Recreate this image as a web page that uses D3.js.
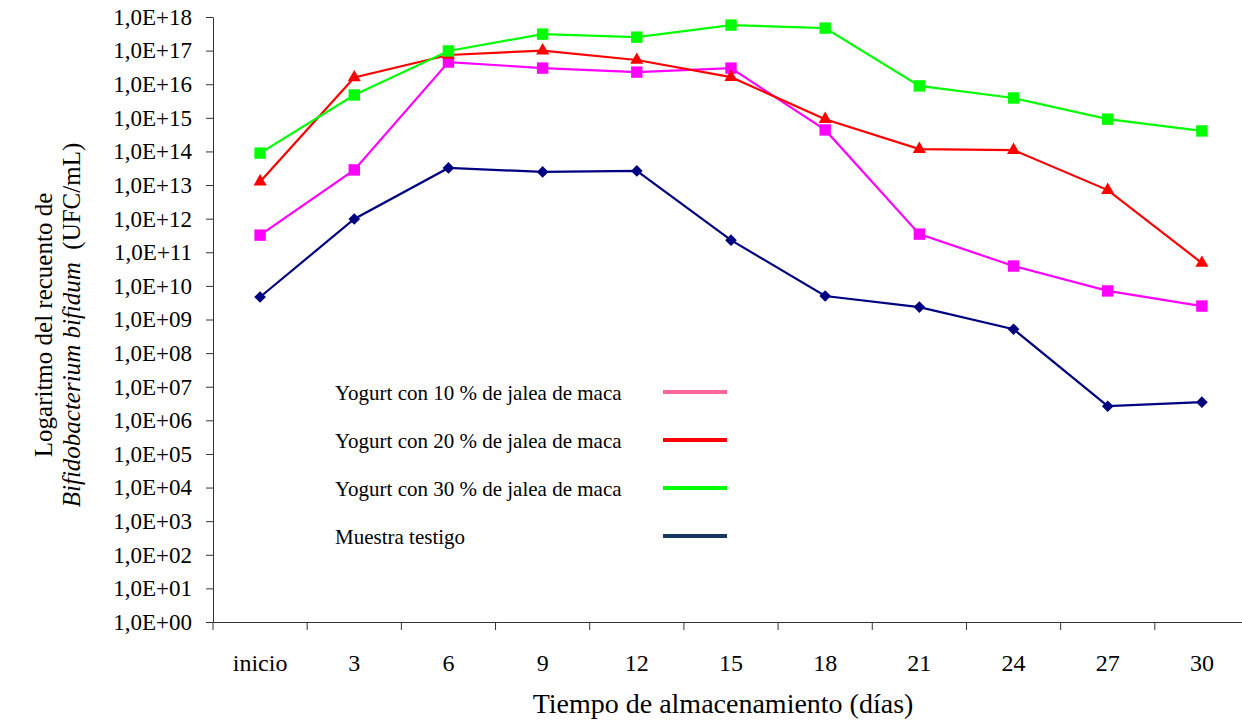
<!DOCTYPE html>
<meta charset="utf-8">
<style>
body { margin: 0; background: #fff; }
svg { font-family: "Liberation Serif", "Times New Roman", serif; }
.tick text { fill: #000; }
.axis path, .axis line { stroke: #333; }
</style>
<svg width="1242" height="721"></svg>
<script src="https://d3js.org/d3.v7.min.js"></script>
<script>

// dias de almacenamiento
var dias = ["inicio", "3", "6", "9", "12", "15", "18", "21", "24", "27", "30"];

// log10 del recuento (UFC/mL)
var yogurt10 = [11.51, 13.45, 16.66, 16.48, 16.36, 16.48, 14.64, 11.54, 10.59, 9.85, 9.40];
var yogurt20 = [13.10, 16.20, 16.87, 17.00, 16.72, 16.21, 14.96, 14.07, 14.04, 12.85, 10.68];
var yogurt30 = [13.95, 15.68, 16.99, 17.49, 17.40, 17.76, 17.67, 15.95, 15.59, 14.96, 14.61];
var testigo  = [9.67, 11.99, 13.51, 13.39, 13.42, 11.36, 9.70, 9.37, 8.71, 6.42, 6.54];

var yTicks = d3.range(0, 19);

var series = [
  {name: "Yogurt con 10 % de jalea de maca", values: yogurt10, color: "#ff00ff", legend: "#ff6699", marker: "square"},
  {name: "Yogurt con 20 % de jalea de maca", values: yogurt20, color: "#ff0000", legend: "#ff0000", marker: "triangle"},
  {name: "Yogurt con 30 % de jalea de maca", values: yogurt30, color: "#00ff00", legend: "#00ff00", marker: "square"},
  {name: "Muestra testigo", values: testigo, color: "#000080", legend: "#17375e", marker: "diamond"}
];

var svg = d3.select("svg");
var mLeft = 213, mRight = 1249, mTop = 17, mBottom = 622;
var serif = "'Liberation Serif', 'Times New Roman', serif";

var x = d3.scaleBand().domain(dias).range([mLeft, mRight]);
var y = d3.scaleLinear().domain([0, 18]).range([mBottom, mTop]);

// eje y
var gy = svg.append("g")
    .attr("class", "axis")
    .attr("transform", "translate(" + mLeft + ",0)")
    .call(d3.axisLeft(y).tickValues(yTicks).tickSize(7).tickSizeOuter(0).tickPadding(14)
      .tickFormat(function(d) { return "1,0E+" + (d < 10 ? "0" : "") + d; }));
gy.attr("font-family", serif).attr("font-size", 23);

// eje x
var gx = svg.append("g")
    .attr("class", "axis")
    .attr("transform", "translate(0," + mBottom + ")")
    .call(d3.axisBottom(x).tickSize(0).tickPadding(32));
gx.attr("font-family", serif).attr("font-size", 24);
gx.selectAll(".tickmark")
    .data(dias).enter().append("line")
    .attr("x1", function(d) { return x(d); })
    .attr("x2", function(d) { return x(d); })
    .attr("y1", 0).attr("y2", 8)
    .attr("stroke", "#333");

// titulos
svg.append("text")
    .attr("x", 723).attr("y", 713)
    .attr("text-anchor", "middle")
    .style("font-size", "28px")
    .text("Tiempo de almacenamiento (días)");

var yt = svg.append("text")
    .attr("transform", "translate(52,325) rotate(-90)")
    .attr("text-anchor", "middle")
    .style("font-size", "25px");
yt.append("tspan").attr("x", 0).attr("y", 0).text("Logaritmo del recuento de");
var l2 = yt.append("tspan").attr("x", 0).attr("y", 28);
l2.append("tspan").style("font-style", "italic").text("Bifidobacterium bifidum");
l2.append("tspan").text("\u00a0 (UFC/mL)");

var cx = function(i) { return x(dias[i]) + x.bandwidth() / 2; };

var line = d3.line()
    .x(function(d, i) { return cx(i); })
    .y(function(d) { return y(d); });

var symbols = {
  square: d3.symbol().type(d3.symbolSquare).size(130),
  triangle: d3.symbol().type(d3.symbolTriangle).size(75),
  diamond: d3.symbol().type(d3.symbolSquare).size(68)
};

series.forEach(function(s) {
  svg.append("path")
      .datum(s.values)
      .attr("fill", "none")
      .attr("stroke", s.color)
      .attr("stroke-width", 2.2)
      .attr("d", line);

  svg.selectAll(null)
      .data(s.values)
      .enter().append("path")
      .attr("transform", function(d, i) {
        return "translate(" + cx(i) + "," + y(d) + ")" + (s.marker === "diamond" ? " rotate(45)" : "");
      })
      .attr("d", symbols[s.marker])
      .attr("fill", s.color);
});

// leyenda
var legend = svg.append("g");
series.forEach(function(s, i) {
  var ly = 392 + i * 48;
  legend.append("text")
      .attr("x", 335).attr("y", ly + 8)
      .style("font-size", "21px")
      .text(s.name);
  legend.append("line")
      .attr("x1", 663).attr("x2", 727)
      .attr("y1", ly).attr("y2", ly)
      .attr("stroke", s.legend)
      .attr("stroke-width", 4);
});

</script>
